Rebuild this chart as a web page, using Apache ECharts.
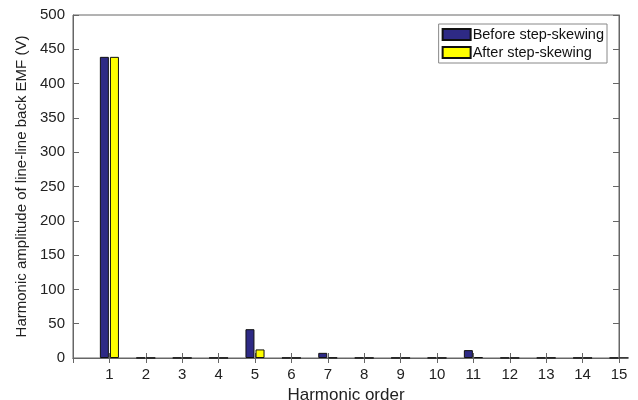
<!DOCTYPE html>
<html><head><meta charset="utf-8">
<script src="https://cdn.jsdelivr.net/npm/echarts@6/dist/echarts.min.js"></script>
<style>html,body{margin:0;padding:0;background:#fff}#c{width:638px;height:400px}</style>
</head><body><div id="c"></div>
<script>
const harmonics = [1,2,3,4,5,6,7,8,9,10,11,12,13,14,15];
const beforeSkew = [439,0.3,0.3,0.3,42,0.3,7.5,0.3,0.3,0.3,11.5,0.3,0.3,0.3,0.3];
const afterSkew  = [439,0.2,0.2,0.2,12.5,0.2,0.5,0.2,0.2,0.2,1.2,0.2,0.4,0.2,0.2];
const yTicks = [0,50,100,150,200,250,300,350,400,450,500];

const axisCol = '#666';
const font = 'Liberation Sans, Arial, sans-serif';
const chart = echarts.init(document.getElementById('c'));
chart.setOption({
  animation:false,
  grid:{left:73,right:19,top:15,bottom:42,containLabel:false,outerBoundsMode:'none',
    show:true,borderColor:axisCol,borderWidth:1,backgroundColor:'transparent'},
  legend:{
    orient:'vertical', right:31, top:24, itemWidth:28, itemHeight:11, itemGap:3,
    icon:'rect',
    padding:[3,3,3,3], borderColor:'#888', borderWidth:1, backgroundColor:'#fff',
    textStyle:{fontFamily:font,fontSize:14.5,color:'#111',padding:[0,0,0,-3]},
    data:['Before step-skewing','After step-skewing']
  },
  xAxis:[{
    type:'value', min:0, max:15, interval:1,
    name:'Harmonic order', nameLocation:'middle', nameGap:23,
    nameTextStyle:{fontFamily:font,fontSize:17,color:'#222'},
    axisLine:{show:true,onZero:false,lineStyle:{color:axisCol}},
    axisTick:{show:true,inside:true,length:5,lineStyle:{color:axisCol}},
    axisLabel:{fontFamily:font,fontSize:15,color:'#222',margin:9,
      formatter:v=> (harmonics.includes(v)? String(v):'')},
    splitLine:{show:false}
  },{
    type:'value', min:0, max:15, interval:1, position:'top',
    axisLine:{show:true,lineStyle:{color:axisCol}},
    axisTick:{show:true,inside:true,length:5,lineStyle:{color:axisCol}},
    axisLabel:{show:false}, splitLine:{show:false}
  }],
  yAxis:[{
    type:'value', min:yTicks[0], max:yTicks[yTicks.length-1], interval:50,
    name:'Harmonic amplitude of line-line back EMF (V)', nameLocation:'middle', nameGap:44,
    nameTextStyle:{fontFamily:font,fontSize:15,color:'#222'},
    axisLine:{show:true,onZero:false,lineStyle:{color:axisCol}},
    axisTick:{show:true,inside:true,length:6,lineStyle:{color:axisCol}},
    axisLabel:{fontFamily:font,fontSize:15,color:'#222',margin:8},
    splitLine:{show:false}
  },{
    type:'value', min:0, max:500, interval:50, position:'right',
    axisLine:{show:true,onZero:false,lineStyle:{color:axisCol}},
    axisTick:{show:true,inside:true,length:6,lineStyle:{color:axisCol}},
    axisLabel:{show:false}, splitLine:{show:false}
  }],
  series:[{
    name:'Before step-skewing', type:'bar', barWidth:9, barGap:'12%',
    itemStyle:{color:'#2e2a85',borderColor:'#111',borderWidth:1},
    data:harmonics.map((h,i)=>[h,beforeSkew[i]])
  },{
    name:'After step-skewing', type:'bar', barWidth:9, barGap:'12%',
    itemStyle:{color:'#ffff00',borderColor:'#111',borderWidth:1},
    data:harmonics.map((h,i)=>[h,afterSkew[i]])
  }]
});
</script></body></html>
